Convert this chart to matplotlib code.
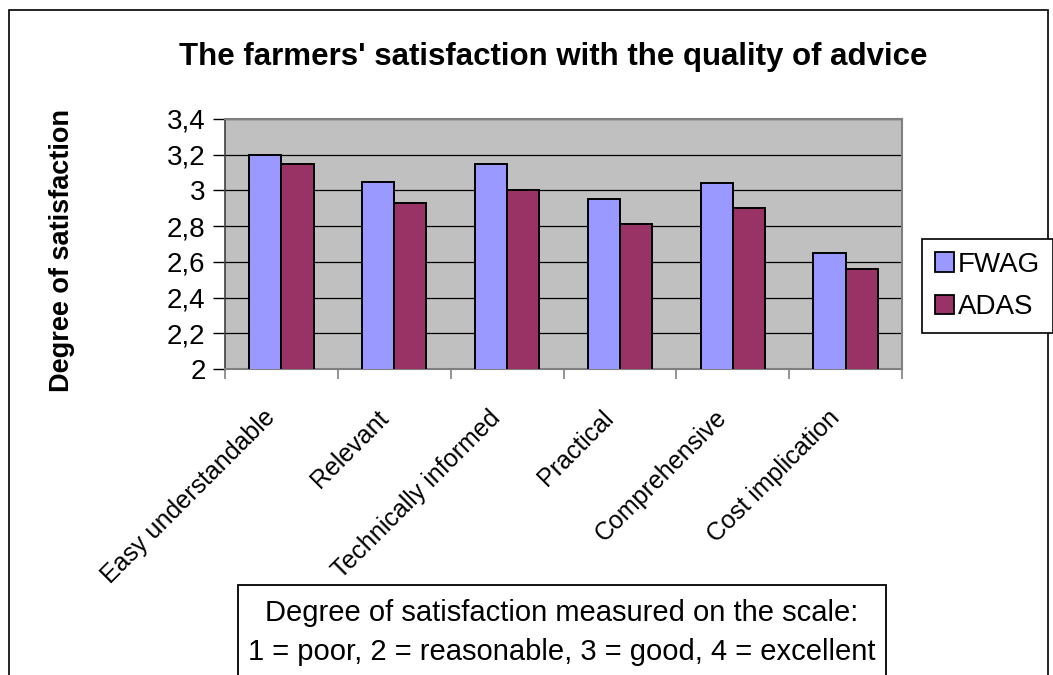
import numpy as np
import matplotlib
matplotlib.use("Agg")
from matplotlib import pyplot as plt
from matplotlib.patches import Patch, Rectangle
import matplotlib.transforms as mtransforms

# data
categorias = ["Easy understandable", "Relevant", "Technically informed",
              "Practical", "Comprehensive", "Cost implication"]
fwag = [3.20, 3.05, 3.15, 2.95, 3.04, 2.65]
adas = [3.15, 2.93, 3.00, 2.81, 2.90, 2.56]
series = ["FWAG", "ADAS"]
yticks = [2.0, 2.2, 2.4, 2.6, 2.8, 3.0, 3.2, 3.4]
ytick_labels = ["2", "2,2", "2,4", "2,6", "2,8", "3", "3,2", "3,4"]

colores = ["#9999FF", "#993366"]
plt.rcParams["font.family"] = ["Liberation Sans", "DejaVu Sans"]

W, H = 1053, 675
fig = plt.figure(figsize=(W / 100, H / 100), dpi=100)

# outer chart frame
fig.add_artist(Rectangle((9 / W, -0.05), (1048 - 9) / W, 1.05 - 10 / H,
                         transform=fig.transFigure, fill=False,
                         edgecolor="black", lw=1.2))

ax = fig.add_axes([225 / W, 1 - 369 / H, (902 - 225) / W, 250 / H])
ax.set_facecolor("#C0C0C0")

x = np.arange(len(categorias))
ancho = 1 / 3.5
ax.bar(x - ancho / 2, fwag, ancho, color=colores[0], edgecolor="black", linewidth=1.4, zorder=3)
ax.bar(x + ancho / 2, adas, ancho, color=colores[1], edgecolor="black", linewidth=1.4, zorder=3)

ax.set_ylim(2.0, 3.4)
ax.set_xlim(-0.5, len(categorias) - 0.5)
ax.set_yticks(yticks)
ax.set_yticklabels(ytick_labels, fontsize=20)
ax.yaxis.grid(True, color="black", linewidth=0.9, zorder=1)
ax.set_axisbelow(True)

# category ticks sit between categories, labels are drawn as text
ax.set_xticks(np.arange(len(categorias) + 1) - 0.5)
ax.set_xticklabels([])
ax.tick_params(axis="x", direction="out", length=7, width=1.2, color="#808080")
ax.tick_params(axis="y", direction="out", length=9, width=1.0, color="black", pad=5)

for lado in ["top", "right", "bottom"]:
    ax.spines[lado].set_color("#808080")
    ax.spines[lado].set_linewidth(1.5)
ax.spines["left"].set_color("#404040")
ax.spines["left"].set_linewidth(1.2)

desplaza = mtransforms.ScaledTranslation(-10 / 100, -45 / 100, fig.dpi_scale_trans)
trans = mtransforms.blended_transform_factory(ax.transData, ax.transAxes) + desplaza
for i, nombre in enumerate(categorias):
    ax.text(i, 0, nombre, transform=trans, rotation=45, ha="right", va="center",
            rotation_mode="anchor", fontsize=18)

fig.text(553 / W, 1 - 57 / H, "The farmers' satisfaction with the quality of advice",
         ha="center", va="center", fontsize=22.5, fontweight="bold")
fig.text(62 / W, 1 - 250 / H, "Degree of satisfaction", rotation=90,
         ha="center", va="center", fontsize=19.5, fontweight="bold")

handles = [Patch(facecolor=colores[k], edgecolor="black", linewidth=1.3) for k in range(2)]
leg = fig.legend(handles, series, loc="upper left",
                 bbox_to_anchor=(922 / W, 1 - 239 / H), fontsize=20,
                 handlelength=0.7, handleheight=0.7, handletextpad=0.15,
                 labelspacing=0.6, borderpad=0.45, borderaxespad=0,
                 fancybox=False, edgecolor="black", framealpha=1)
leg.get_frame().set_linewidth(1.2)

# note box at the bottom
fig.add_artist(Rectangle((238 / W, -0.05), (886 - 238) / W, 0.05 + 1 - 585 / H,
                         transform=fig.transFigure, fill=False,
                         edgecolor="black", lw=1.3))
fig.text(562 / W, 1 - 613 / H, "Degree of satisfaction measured on the scale:",
         ha="center", va="center", fontsize=21)
fig.text(562 / W, 1 - 652 / H, "1 = poor, 2 = reasonable, 3 = good, 4 = excellent",
         ha="center", va="center", fontsize=21)

fig.savefig("out.png", dpi=100)
